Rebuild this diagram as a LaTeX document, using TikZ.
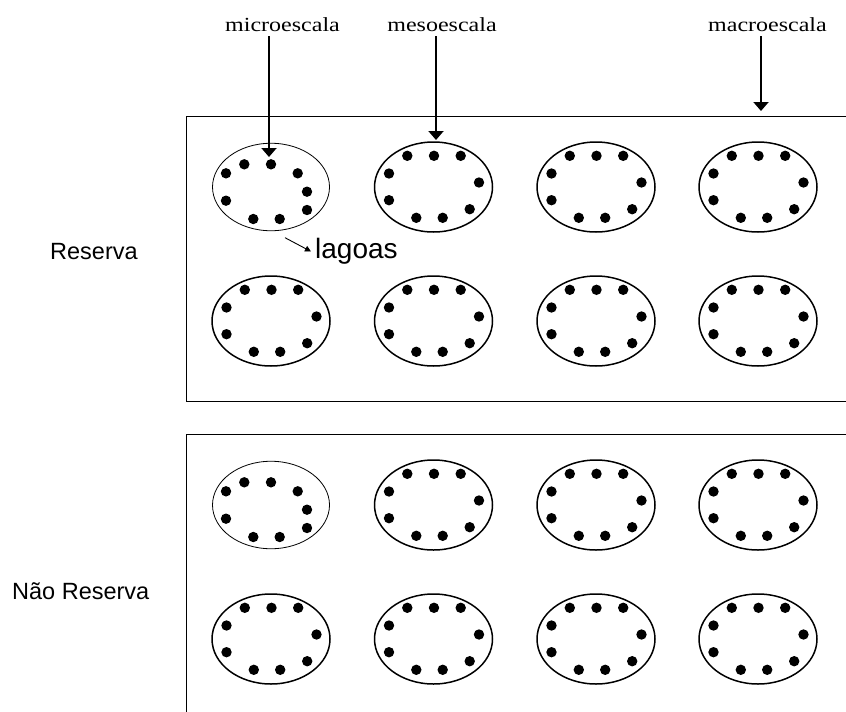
\documentclass[tikz,border=0pt]{standalone}
\usepackage{fontspec}
\newfontfamily\tms{Liberation Serif}
\newfontfamily\arl{Liberation Sans}
\usetikzlibrary{shapes.geometric,arrows.meta}
\tikzset{
  pond/.style={draw, ellipse, inner sep=0pt, minimum width=118pt, minimum height=90pt, line width=1.5pt},
  thinpond/.style={draw, ellipse, inner sep=0pt, minimum width=117pt, minimum height=87.5pt, line width=0.8pt},
  dotc/.style={fill=black},
  scalelbl/.style={font=\tms\fontsize{20}{22}\selectfont, anchor=base, inner sep=0pt},
  arealbl/.style={font=\arl\fontsize{23.5}{26}\selectfont, anchor=base west, inner sep=0pt},
  bigarrow/.style={line width=2pt, -{Triangle[length=9pt,width=15pt]}},
  smallarrow/.style={line width=0.9pt, -{Triangle[length=6pt,width=6pt]}},
  frame/.style={line width=1pt}
}
\begin{document}
\begin{tikzpicture}[x=1pt,y=-1pt]
\useasboundingbox (0,0) rectangle (846,712);
% frames
\draw[frame] (846,116) -- (186,116) -- (186,401.5) -- (846,401.5);
\draw[frame] (846,434) -- (186,434) -- (186,712);
% ponds
\foreach \r/\y/\t in {a/187/1, b/321/0, c/505/1, d/639/0}{
  \foreach \c/\x in {1/271, 2/433.5, 3/596, 4/758}{
    \pgfmathtruncatemacro\isthin{(\c==1)*\t}
    \ifnum\isthin=1
      \node[thinpond] (p\r\c) at (\x,\y) {};
      \foreach \dx/\dy in {-26.7/-22.7, 0/-22.7, -45/-13.7, 26.7/-13.7, 36/4.7, -45/13.7, 36/23, -17.7/32, 8.7/32}
        \fill[dotc] (\x+\dx,\y+\dy) circle (5.2pt);
    \else
      \node[pond] (p\r\c) at (\x,\y) {};
      \foreach \dx/\dy in {-26.2/-31.2, 0.5/-31.2, 27.2/-31.2, -44.5/-13.5, 45.5/-4.5, -44.5/13.2, -17.2/30.8, 9.2/30.8, 36.2/22.2}
        \fill[dotc] (\x+\dx,\y+\dy) circle (5.2pt);
    \fi
  }
}
% scale labels
\node[scalelbl] (micro) at (282.5,31.7) {\scalebox{1.2}[1]{microescala}};
\node[scalelbl] (meso) at (442,31.7) {\scalebox{1.2}[1]{mesoescala}};
\node[scalelbl] (macro) at (767.5,31.7) {\scalebox{1.2}[1]{macroescala}};
\coordinate (microtip) at (269,157);
\coordinate (mesotip) at (436,140);
\coordinate (macrotip) at (761,111);
\draw[bigarrow] (269,36) -- (microtip);
\draw[bigarrow] (436,36) -- (mesotip);
\draw[bigarrow] (761,36) -- (macrotip);
% area labels
\node[arealbl] (res) at (50,259) {Reserva};
\node[arealbl] (nres) at (12,599) {Não Reserva};
\node[font=\arl\fontsize{28}{30}\selectfont, anchor=base west, inner sep=0pt] (lag) at (315,258) {lagoas};
\coordinate (lagstart) at (285,237.7);
\draw[smallarrow] (lagstart) -- (311,251.5);
\end{tikzpicture}
\end{document}
